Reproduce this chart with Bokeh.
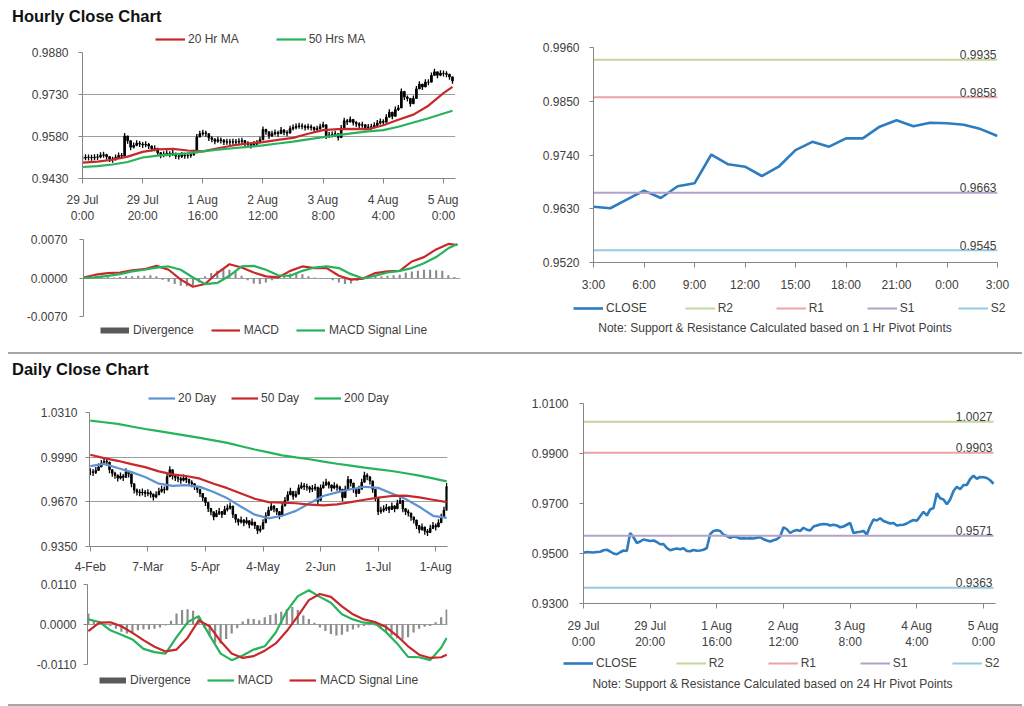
from bokeh.plotting import figure
from bokeh.models import Range1d, FixedTicker, Legend, LegendItem, Label, Div, NumeralTickFormatter
from bokeh.layouts import column, row
from bokeh.embed import file_html
from bokeh.resources import INLINE
from bokeh.core.properties import value

# ------------------------------------------------------------------ data
hourly_tick_pos = [0, 20, 40, 60, 80, 100, 120]
hourly_tick_labels = ["29 Jul\n0:00", "29 Jul\n20:00", "1 Aug\n16:00", "2 Aug\n12:00",
                      "3 Aug\n8:00", "4 Aug\n4:00", "5 Aug\n0:00"]
hourly_close = [
    0.9503, 0.9506, 0.9505, 0.9504, 0.9506, 0.9507, 0.9513, 0.9515, 0.9508, 0.9500, 0.9497, 0.9505, 0.9512, 0.9510,
    0.9582, 0.9565, 0.9542, 0.9548, 0.9556, 0.9553, 0.9550, 0.9552, 0.9546, 0.9537, 0.9538, 0.9522, 0.9513, 0.9517,
    0.9520, 0.9517, 0.9521, 0.9510, 0.9509, 0.9514, 0.9511, 0.9512, 0.9515, 0.9522, 0.9578, 0.9590, 0.9593, 0.9590,
    0.9575, 0.9570, 0.9563, 0.9568, 0.9566, 0.9560, 0.9561, 0.9560, 0.9561, 0.9560, 0.9563, 0.9565, 0.9557, 0.9552,
    0.9548, 0.9553, 0.9557, 0.9568, 0.9605, 0.9597, 0.9582, 0.9590, 0.9594, 0.9590, 0.9603, 0.9595, 0.9592, 0.9608,
    0.9612, 0.9616, 0.9618, 0.9617, 0.9612, 0.9615, 0.9612, 0.9605, 0.9608, 0.9615, 0.9622, 0.9582, 0.9585, 0.9587,
    0.9590, 0.9576, 0.9610, 0.9636, 0.9632, 0.9641, 0.9630, 0.9625, 0.9620, 0.9622, 0.9612, 0.9614, 0.9615, 0.9620, 0.9628,
    0.9634, 0.9631, 0.9649, 0.9667, 0.9652, 0.9676, 0.9682, 0.9741, 0.9721, 0.9716, 0.9697, 0.9716, 0.9750, 0.9767,
    0.9757, 0.9774, 0.9774, 0.9798, 0.9811, 0.9799, 0.9806, 0.9805, 0.9802, 0.9793, 0.9779]
ma_hours = [0, 5, 10, 15, 20, 25, 30, 35, 40, 45, 50, 55, 60, 65, 70, 75, 80, 85, 90, 95, 100, 105, 110, 115, 120, 123]
ma20_hr = [0.9487, 0.9490, 0.9497, 0.9508, 0.9525, 0.9534, 0.9536, 0.9530, 0.9527, 0.9538, 0.9548, 0.9555, 0.9560,
           0.9568, 0.9575, 0.9590, 0.9603, 0.9606, 0.9607, 0.9606, 0.9620, 0.9640, 0.9658, 0.9690, 0.9735, 0.9757]
ma50_hr = [0.9471, 0.9474, 0.9480, 0.9489, 0.9505, 0.9512, 0.9516, 0.9520, 0.9527, 0.9533, 0.9538, 0.9543, 0.9548,
           0.9555, 0.9562, 0.9570, 0.9578, 0.9585, 0.9592, 0.9598, 0.9603, 0.9615, 0.9630, 0.9645, 0.9662, 0.9672]
macd_hours = [0, 4, 8, 12, 16, 20, 24, 28, 32, 36, 40, 44, 48, 52, 56, 60, 64, 68, 72, 76, 80, 84, 88, 92, 96, 100,
              104, 108, 112, 116, 120, 123]
macd_hr = [0.0001, 0.0006, 0.0009, 0.0010, 0.0014, 0.0016, 0.0022, 0.0015, -0.0003, -0.0016, -0.0011, 0.0009, 0.0025,
           0.0019, 0.0010, 0.0003, 0.0001, 0.0013, 0.0021, 0.0018, 0.0018, 0.0004, -0.0003, -0.0001, 0.0009, 0.0012,
           0.0013, 0.0030, 0.0038, 0.0052, 0.0062, 0.0060]
signal_hr = [0.0000, 0.0001, 0.0004, 0.0007, 0.0012, 0.0015, 0.0019, 0.0021, 0.0015, 0.0001, -0.0011, -0.0009, 0.0004,
             0.0021, 0.0022, 0.0015, 0.0005, 0.0004, 0.0013, 0.0019, 0.0021, 0.0018, 0.0007, -0.0001, 0.0004, 0.0010,
             0.0013, 0.0018, 0.0027, 0.0038, 0.0054, 0.0062]
div_hours = list(range(0, 123, 2))
div_hr = [0.0001, 0.0003, 0.0004, 0.0004, 0.0002, 0.0001, 0.0002, 0.0003, 0.0003, 0.0004, 0.0004, 0.0005, 0.0003,
          -0.0003, -0.0007, -0.0011, -0.0014, -0.0015, -0.0013, -0.0008, 0.0003, 0.0009, 0.0013, 0.0016, 0.0015,
          0.0011, 0.0004, -0.0004, -0.0010, -0.0011, -0.0008, -0.0004, -0.0001, 0.0004, 0.0008, 0.0010, 0.0007,
          0.0003, 0.0001, -0.0001, -0.0002, -0.0004, -0.0008, -0.0011, -0.0010, -0.0005, 0.0002, 0.0004, 0.0004,
          0.0003, 0.0004, 0.0005, 0.0006, 0.0010, 0.0012, 0.0013, 0.0015, 0.0015, 0.0014, 0.0013, 0.0005, 0.0002]

session_tick_pos = [0, 3, 6, 9, 12, 15, 18, 21, 24]
session_tick_labels = ["3:00", "6:00", "9:00", "12:00", "15:00", "18:00", "21:00", "0:00", "3:00"]
pivot_names = ["R2", "R1", "S1", "S2"]
pivot_hr_levels = [0.9935, 0.9858, 0.9663, 0.9545]
pivot_day_levels = [1.0027, 0.9903, 0.9571, 0.9363]

day_tick_pos = [0, 21, 42, 63, 84, 105, 126]
day_tick_labels = ["4-Feb", "7-Mar", "5-Apr", "4-May", "2-Jun", "1-Jul", "1-Aug"]
daily_close = [
    0.9885, 0.9880, 0.9895, 0.9920, 0.9945, 0.9960, 0.9955, 0.9900, 0.9875, 0.9860,
    0.9840, 0.9855, 0.9845, 0.9885, 0.9870, 0.9800, 0.9755, 0.9740, 0.9735, 0.9740,
    0.9730, 0.9735, 0.9725, 0.9705, 0.9720, 0.9745, 0.9760, 0.9755, 0.9850, 0.9900,
    0.9855, 0.9845, 0.9835, 0.9825, 0.9840, 0.9830, 0.9810, 0.9800, 0.9780, 0.9760,
    0.9730, 0.9700, 0.9665, 0.9623, 0.9599, 0.9563, 0.9587, 0.9600, 0.9580, 0.9615,
    0.9625, 0.9640, 0.9580, 0.9545, 0.9525, 0.9540, 0.9520, 0.9535, 0.9505, 0.9525,
    0.9500, 0.9465, 0.9475, 0.9520, 0.9570, 0.9610, 0.9640, 0.9620, 0.9600, 0.9570,
    0.9640, 0.9680, 0.9720, 0.9745, 0.9710, 0.9725, 0.9770, 0.9785, 0.9780, 0.9775,
    0.9760, 0.9765, 0.9775, 0.9680, 0.9770, 0.9790, 0.9810, 0.9790, 0.9770, 0.9785,
    0.9775, 0.9760, 0.9700, 0.9760, 0.9830, 0.9805, 0.9760, 0.9730, 0.9760, 0.9810,
    0.9860, 0.9850, 0.9820, 0.9760, 0.9700, 0.9600, 0.9610, 0.9620, 0.9630, 0.9615,
    0.9640, 0.9620, 0.9660, 0.9680, 0.9620, 0.9600, 0.9590, 0.9560, 0.9540, 0.9500,
    0.9470, 0.9490, 0.9460, 0.9450, 0.9480, 0.9500, 0.9490, 0.9520, 0.9560, 0.9610,
    0.9780]
ma_days = list(range(0, 131, 5))
ma20_day = [0.9926, 0.9942, 0.9912, 0.9883, 0.9848, 0.9800, 0.9784, 0.9789, 0.9777, 0.9740, 0.9695, 0.9635, 0.9578,
            0.9552, 0.9570, 0.9605, 0.9660, 0.9712, 0.9738, 0.9760, 0.9778, 0.9770, 0.9730, 0.9690, 0.9635, 0.9570,
            0.9555]
ma50_day = [1.0007, 0.9983, 0.9964, 0.9940, 0.9919, 0.9888, 0.9867, 0.9855, 0.9836, 0.9800, 0.9768, 0.9730, 0.9692,
            0.9668, 0.9665, 0.9660, 0.9650, 0.9645, 0.9652, 0.9668, 0.9685, 0.9700, 0.9712, 0.9715, 0.9702, 0.9685,
            0.9668]
ma200_day = [1.0252, 1.0240, 1.0228, 1.0210, 1.0192, 1.0176, 1.0160, 1.0144, 1.0128, 1.0110, 1.0092, 1.0068, 1.0045,
             1.0024, 1.0003, 0.9988, 0.9975, 0.9958, 0.9943, 0.9929, 0.9915, 0.9903, 0.9891, 0.9875, 0.9858, 0.9838,
             0.9817]
macd_days = list(range(0, 129, 4)) + [130]
macd_day = [0.0014, 0.0007, -0.0016, -0.0028, -0.0041, -0.0067, -0.0076, -0.0080, -0.0035, 0.0006, 0.0023, -0.0030,
            -0.0080, -0.0098, -0.0085, -0.0069, -0.0060, -0.0022, 0.0037, 0.0078, 0.0094, 0.0076, 0.0060, 0.0028,
            0.0014, 0.0005, 0.0003, -0.0021, -0.0052, -0.0089, -0.0090, -0.0098, -0.0064, -0.0037]
signal_day = [-0.0018, 0.0005, 0.0006, -0.0005, -0.0023, -0.0043, -0.0061, -0.0074, -0.0069, -0.0037, 0.0011,
              -0.0005, -0.0046, -0.0080, -0.0092, -0.0087, -0.0072, -0.0052, -0.0018, 0.0023, 0.0067, 0.0084, 0.0076,
              0.0050, 0.0028, 0.0014, 0.0007, -0.0007, -0.0031, -0.0060, -0.0083, -0.0092, -0.0090, -0.0083]
div_days = list(range(0, 131, 2))
div_day = [0.0030, 0.0012, 0.0003, 0.0002, -0.0005, -0.0012, -0.0020, -0.0025, -0.0022, -0.0016,
           -0.0013, -0.0014, -0.0012, -0.0008, -0.0003, 0.0010, 0.0030, 0.0040, 0.0042, 0.0038,
           0.0020, -0.0008, -0.0030, -0.0050, -0.0052, -0.0040, -0.0025, -0.0010, 0.0008, 0.0016,
           0.0015, 0.0012, 0.0020, 0.0026, 0.0030, 0.0035, 0.0042, 0.0048, 0.0040, 0.0025,
           0.0015, 0.0005, -0.0008, -0.0018, -0.0026, -0.0030, -0.0028, -0.0020, -0.0014, -0.0008,
           -0.0004, -0.0002, -0.0003, -0.0010, -0.0020, -0.0030, -0.0038, -0.0041, -0.0035, -0.0022,
           -0.0012, -0.0006, -0.0004, 0.0006, 0.0020, 0.0041]

hr_price_ticks = [0.9430, 0.9580, 0.9730, 0.9880]
hr_macd_ticks = [-0.0070, 0.0, 0.0070]
session_price_ticks = [0.9520, 0.9630, 0.9740, 0.9850, 0.9960]
day_price_ticks = [0.9350, 0.9670, 0.9990, 1.0310]
day_macd_ticks = [-0.0110, 0.0, 0.0110]
pivot_day_ticks = [0.9300, 0.9500, 0.9700, 0.9900, 1.0100]

# ------------------------------------------------------------------ styles
FONT = "Liberation Sans"
TXT = "#404040"
AXC = "#868686"
GRID = "#9e9e9e"
RED = "#c8282a"
GREEN = "#27b35b"
BLUE = "#5b93d3"
CLOSE_BLUE = "#2d7cc0"
PIVOT_COLORS = ["#c3d69b", "#eba3a3", "#b3a2c7", "#93cddd"]
DIV_GRAY = "#8c8c8c"
DIV_KEY = "#595959"


def base_fig(w, h, xr, yr, ml, mr, mt, mb, yticks, ystand, xstand=8, xaxis=True):
    kw = {} if xaxis else {"x_axis_location": None}
    p = figure(width=w, height=h, x_range=Range1d(*xr), y_range=Range1d(*yr),
               output_backend="svg", toolbar_location=None, frame_align=False,
               min_border_left=ml, min_border_right=mr, min_border_top=mt, min_border_bottom=mb, **kw)
    p.outline_line_color = None
    p.xgrid.visible = False
    p.ygrid.visible = False
    axes = list(p.yaxis) + (list(p.xaxis) if xaxis else [])
    for ax in axes:
        ax.axis_line_color = AXC
        ax.major_tick_line_color = AXC
        ax.minor_tick_line_color = None
        ax.major_tick_in = 0
        ax.major_tick_out = 5
        ax.major_label_text_font = FONT
        ax.major_label_text_font_size = "12px"
        ax.major_label_text_color = TXT
    p.yaxis[0].major_tick_out = 4
    p.yaxis[0].ticker = FixedTicker(ticks=yticks)
    p.yaxis[0].formatter = NumeralTickFormatter(format="0.0000")
    p.yaxis[0].major_label_standoff = ystand
    if xaxis:
        p.xaxis[0].major_label_standoff = xstand
    return p


def strip(w, h):
    """A blank strip (no axes) holding a legend and/or a note; its frame is the whole figure."""
    f = figure(width=w, height=h, x_range=Range1d(0, w), y_range=Range1d(0, h),
               output_backend="svg", toolbar_location=None, frame_align=False,
               min_border_left=0, min_border_right=0, min_border_top=0, min_border_bottom=0,
               x_axis_location=None, y_axis_location=None)
    f.outline_line_color = None
    f.xgrid.visible = False
    f.ygrid.visible = False
    return f


def strip_legend(f, entries, loc, gw, spacing, standoff=3):
    items = []
    for label, color, lw in entries:
        # legend key only: its two points lie outside the strip's visible range
        r = f.line(x=[-20, -10], y=[-20, -20], line_color=color, line_width=lw)
        items.append(LegendItem(label=label, renderers=[r]))
    f.add_layout(Legend(items=items, location=loc, orientation="horizontal",
                        glyph_width=gw, glyph_height=12, label_height=12, label_standoff=standoff,
                        spacing=spacing, padding=0, margin=0, border_line_color=None,
                        background_fill_alpha=0, label_text_font=FONT, label_text_font_size="12px",
                        label_text_color=TXT))


def strip_note(f, text, x, y):
    f.add_layout(Label(x=x, y=y, text=text, text_align="center", text_baseline="middle",
                       text_font=FONT, text_font_size="12px", text_color=TXT))


def candles(p, closes, size):
    xs = list(range(len(closes)))
    opens = [closes[0]] + closes[:-1]
    tops = [max(o, c) for o, c in zip(opens, closes)]
    bots = [min(o, c) for o, c in zip(opens, closes)]
    p.vbar(x=xs, top=tops, bottom=bots, width=0.55, fill_color="black", line_color="black", line_width=1)
    p.scatter(x=xs, y=closes, marker="dash", angle=1.5708, size=size, line_color="black", line_width=1.3)


LW = 498   # left column width
RW = 526   # right column width

# ------------------------------------------------------------------ hourly candles
h1 = strip(LW, 16)
strip_legend(h1, [("20 Hr MA", RED, 2.2), ("50 Hrs MA", GREEN, 2.2)], (155, 0), 30, 37)

p1 = base_fig(LW, 180, (0, 124), (0.943, 0.988), 82, 43, 6, 47, hr_price_ticks, 10, 9)
p1.ygrid.visible = True
p1.ygrid.grid_line_color = GRID
p1.xaxis[0].ticker = FixedTicker(ticks=hourly_tick_pos)
p1.xaxis[0].major_label_overrides = dict(zip(hourly_tick_pos, hourly_tick_labels))
candles(p1, hourly_close, 6)
p1.line(ma_hours, ma20_hr, line_color=RED, line_width=2.2)
p1.line(ma_hours, ma50_hr, line_color=GREEN, line_width=2.2)

# ------------------------------------------------------------------ hourly MACD
p2 = base_fig(LW, 97, (0, 124), (-0.007, 0.007), 83, 38, 13, 7, hr_macd_ticks, 12, xaxis=False)
p2.ygrid.visible = True
p2.ygrid.grid_line_color = GRID
p2.vbar(x=div_hours, top=div_hr, bottom=0, width=0.7, fill_color=DIV_GRAY, line_color=None)
p2.line(macd_hours, macd_hr, line_color=RED, line_width=2.2)
p2.line(macd_hours, signal_hr, line_color=GREEN, line_width=2.2)

f2 = strip(LW, 19)
strip_legend(f2, [("Divergence", DIV_KEY, 6), ("MACD", RED, 2.2), ("MACD Signal Line", GREEN, 2.2)],
             (100, 5), 29, 17, 4)


# ------------------------------------------------------------------ pivot charts
def pivot_fig(w, h, x_last, xr, yr, ml, mr, mt, mb, yticks, ystand, xstand, closes, xs, levels):
    p = base_fig(w, h, xr, yr, ml, mr, mt, mb, yticks, ystand, xstand)
    p.line(xs, closes, line_color=CLOSE_BLUE, line_width=2.6)
    for lvl, col in zip(levels, PIVOT_COLORS):
        p.line([xs[0], x_last], [lvl, lvl], line_color=col, line_width=2)
    p.text(x=[x_last] * len(levels), y=levels, text=["%.4f" % v for v in levels],
           text_align="right", text_baseline="alphabetic", x_offset=-1, y_offset=-5,
           text_font=value(FONT), text_font_size=value("12px"), text_color=TXT)
    return p


pivot_entries = [("CLOSE", CLOSE_BLUE, 2.6)] + [(n, c, 2) for n, c in zip(pivot_names, PIVOT_COLORS)]

session_close = hourly_close[-25:]
p3 = pivot_fig(RW, 264, 24, (0, 24), (0.952, 0.996), 95, 27, 17, 31, session_price_ticks, 10, 10,
               session_close, list(range(len(session_close))), pivot_hr_levels)
p3.xaxis[0].ticker = FixedTicker(ticks=session_tick_pos)
p3.xaxis[0].major_label_overrides = dict(zip(session_tick_pos, session_tick_labels))

f3 = strip(RW, 48)
strip_legend(f3, pivot_entries, (75, 27), 30, 38)
strip_note(f3, "Note: Support & Resistance Calculated based on 1 Hr Pivot Points", 276.5, 15)

# ------------------------------------------------------------------ daily candles
h4 = strip(LW, 25)
strip_legend(h4, [("20 Day", BLUE, 2.2), ("50 Day", RED, 2.2), ("200 Day", GREEN, 2.2)], (148, 0), 27, 15)

p4 = base_fig(LW, 171, (-0.3, 130.3), (0.935, 1.031), 89, 51, 7, 30, day_price_ticks, 8, 8)
p4.ygrid.visible = True
p4.ygrid.grid_line_color = GRID
p4.xaxis[0].ticker = FixedTicker(ticks=day_tick_pos)
p4.xaxis[0].major_label_overrides = dict(zip(day_tick_pos, day_tick_labels))
candles(p4, daily_close, 7)
p4.line(ma_days, ma20_day, line_color=BLUE, line_width=2.2)
p4.line(ma_days, ma50_day, line_color=RED, line_width=2.2)
p4.line(ma_days, ma200_day, line_color=GREEN, line_width=2.2)

# ------------------------------------------------------------------ daily MACD
p5 = base_fig(LW, 96, (-0.3, 130.3), (-0.011, 0.011), 87, 51, 8, 8, day_macd_ticks, 7, xaxis=False)
p5.ygrid.visible = True
p5.ygrid.grid_line_color = GRID
p5.vbar(x=div_days, top=div_day, bottom=0, width=0.8, fill_color=DIV_GRAY, line_color=None)
p5.line(macd_days, macd_day, line_color=GREEN, line_width=2.2)
p5.line(macd_days, signal_day, line_color=RED, line_width=2.2)

f5 = strip(LW, 22)
strip_legend(f5, [("Divergence", DIV_KEY, 6), ("MACD", GREEN, 2.2), ("MACD Signal Line", RED, 2.2)],
             (99, 7), 27, 16, 4)

# ------------------------------------------------------------------ daily pivot chart
p6 = pivot_fig(RW, 272, len(hourly_close) - 1, (0, 123.6), (0.93, 1.01), 85, 29, 23, 47, pivot_day_ticks, 11, 10,
               hourly_close, list(range(len(hourly_close))), pivot_day_levels)
p6.xaxis[0].ticker = FixedTicker(ticks=hourly_tick_pos)
p6.xaxis[0].major_label_overrides = dict(zip(hourly_tick_pos, hourly_tick_labels))

f6 = strip(RW, 42)
strip_legend(f6, pivot_entries, (65, 24), 30, 39)
strip_note(f6, "Note: Support & Resistance Calculated based on 24 Hr Pivot Points", 274, 11)

# ------------------------------------------------------------------ page
TITLE_CSS = ("font-family:'Liberation Sans',Arial,sans-serif;font-weight:bold;font-size:16.5px;"
             "color:#111;padding-left:12px;white-space:nowrap;line-height:16px;")
title1 = Div(text='<div style="%spadding-top:8px">Hourly Close Chart</div>' % TITLE_CSS,
             width=1024, height=30, margin=(0, 0, 0, 0))
sep1 = Div(text='<div style="height:9px;border-bottom:2px solid #a6a6a6;width:1014px;margin-left:8px"></div>',
           width=1024, height=18, margin=(0, 0, 0, 0))
title2 = Div(text='<div style="%spadding-top:1px">Daily Close Chart</div>' % TITLE_CSS,
             width=1024, height=20, margin=(0, 0, 0, 0))
sep2 = Div(text='<div style="height:9px;border-bottom:2px solid #a6a6a6;width:1014px;margin-left:8px"></div>',
           width=1024, height=12, margin=(0, 0, 0, 0))

page = column(title1,
              row(column(h1, p1, p2, f2, spacing=0), column(p3, f3, spacing=0), spacing=0),
              sep1, title2,
              row(column(h4, p4, p5, f5, spacing=0), column(p6, f6, spacing=0), spacing=0),
              sep2, spacing=0)

open("out.html", "w").write(file_html(page, INLINE))
